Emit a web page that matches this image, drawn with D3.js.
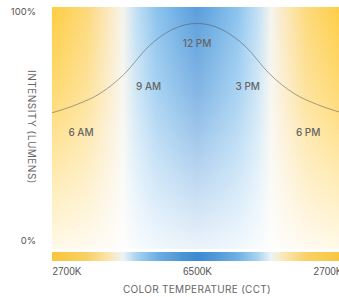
<!DOCTYPE html>
<html>
<head>
<meta charset="utf-8">
<script src="https://cdn.jsdelivr.net/npm/d3@7"></script>
<style>
  body { margin: 0; background: #fff; }
  svg { display: block; font-family: Inter, "Open Sans", sans-serif; }
</style>
</head>
<body>
<svg id="chart" width="339" height="297"></svg>
<script>
// time of day (hours) and light intensity (%)
const hours = [6, 7, 8, 9, 10, 11, 12, 13, 14, 15, 16, 17, 18];
const intensity = [56, 59.5, 64.5, 73, 85, 92.5, 95, 92.5, 85, 73, 64.5, 59.5, 56];

const timeLabels = ["6 AM", "9 AM", "12 PM", "3 PM", "6 PM"];
const labelHours = [7.2, 10, 12, 14.1, 16.6];
const labelValues = [47, 67, 86, 67, 47];

const cctTicks = [6, 12, 18];
const cctLabels = ["2700K", "6500K", "2700K"];
const yTicks = [0, 100];

// color temperature gradient, left to right
const gradOffsets = [0, 0.12, 0.2, 0.245, 0.29, 0.36, 0.45, 0.5, 0.55, 0.64, 0.71, 0.755, 0.8, 0.88, 1];
const gradColors = ["#ffcd42", "#fdd97a", "#fbe9c2", "#f5f4ec", "#c2e0f4", "#8cc4ee", "#6aabe2", "#5b9edc",
                    "#6aabe2", "#8cc4ee", "#c2e0f4", "#f5f4ec", "#fbe9c2", "#fdd97a", "#ffcd42"];
const stripColors = ["#f8c63a", "#f9d064", "#fbe6b4", "#eef3f5", "#a9d4f1", "#6fb0e3", "#4d95d6", "#3d8bd3",
                     "#4d95d6", "#6fb0e3", "#a9d4f1", "#eef3f5", "#fbe6b4", "#f9d064", "#f8c63a"];

const svg = d3.select("#chart");
const plot = { left: 52, right: 342, top: 7, bottom: 249 };

const x = d3.scaleLinear().domain([6, 18]).range([plot.left, plot.right]);
const y = d3.scaleLinear().domain([0, 100]).range([241, 12]);

const defs = svg.append("defs");
const hGrad = defs.append("linearGradient").attr("id", "hgrad");
hGrad.selectAll("stop").data(gradOffsets).enter().append("stop")
  .attr("offset", d => d).attr("stop-color", (d, i) => gradColors[i]);

const sGrad = defs.append("linearGradient").attr("id", "sgrad");
sGrad.selectAll("stop").data(gradOffsets).enter().append("stop")
  .attr("offset", d => d).attr("stop-color", (d, i) => stripColors[i]);

const vGrad = defs.append("linearGradient").attr("id", "vgrad")
  .attr("x1", 0).attr("x2", 0).attr("y1", 0).attr("y2", 1);
vGrad.append("stop").attr("offset", 0).attr("stop-color", "#fff").attr("stop-opacity", 0);
vGrad.append("stop").attr("offset", 0.35).attr("stop-color", "#fff").attr("stop-opacity", 0.25);
vGrad.append("stop").attr("offset", 1).attr("stop-color", "#fff").attr("stop-opacity", 0.88);

const blur = defs.append("filter").attr("id", "soft").attr("x", "-5%").attr("width", "110%");
blur.append("feGaussianBlur").attr("stdDeviation", "0.6");

// background
svg.append("rect")
  .attr("x", plot.left).attr("y", plot.top)
  .attr("width", plot.right - plot.left).attr("height", plot.bottom - plot.top)
  .attr("fill", "url(#hgrad)");
svg.append("rect")
  .attr("x", plot.left).attr("y", plot.top)
  .attr("width", plot.right - plot.left).attr("height", plot.bottom - plot.top)
  .attr("fill", "url(#vgrad)");

// color strip
svg.append("rect")
  .attr("x", plot.left).attr("y", 252)
  .attr("width", plot.right - plot.left).attr("height", 9)
  .attr("fill", "url(#sgrad)")
  .attr("filter", "url(#soft)");

// intensity curve
const line = d3.line()
  .x((d, i) => x(hours[i]))
  .y(d => y(d))
  .curve(d3.curveMonotoneX);

svg.append("path")
  .datum(intensity)
  .attr("d", line)
  .attr("fill", "none")
  .attr("stroke", "rgba(90,90,90,0.55)")
  .attr("stroke-width", 1);

// time labels
svg.selectAll(".tlabel")
  .data(timeLabels)
  .enter().append("text")
  .attr("x", (d, i) => x(labelHours[i]))
  .attr("y", (d, i) => y(labelValues[i]))
  .attr("text-anchor", "middle")
  .attr("dominant-baseline", "middle")
  .attr("font-size", 10)
  .attr("font-weight", 500)
  .attr("fill", "#666")
  .text(d => d);

// y tick labels
svg.selectAll(".ytick")
  .data(yTicks)
  .enter().append("text")
  .attr("x", 36)
  .attr("y", d => y(d))
  .attr("text-anchor", "end")
  .attr("dominant-baseline", "middle")
  .attr("font-size", 9.5)
  .attr("fill", "#555")
  .text(d => d + "%");

// x axis
const xAxis = svg.append("g")
  .attr("transform", "translate(0,266)")
  .call(d3.axisBottom(x).tickValues(cctTicks).tickSize(0).tickPadding(2)
    .tickFormat((d, i) => cctLabels[i]));
xAxis.select(".domain").remove();
xAxis.selectAll("text")
  .attr("font-family", null)
  .attr("font-size", 10)
  .attr("font-weight", 500)
  .attr("fill", "#555")
  .attr("text-anchor", (d, i) => i === 0 ? "start" : (i === cctTicks.length - 1 ? "end" : "middle"));

// axis titles
svg.append("text")
  .attr("x", x(12)).attr("y", 290)
  .attr("text-anchor", "middle")
  .attr("dominant-baseline", "middle")
  .attr("font-size", 10)
  .attr("letter-spacing", 0.3)
  .attr("fill", "#666")
  .text("COLOR TEMPERATURE (CCT)");

svg.append("text")
  .attr("transform", "translate(31,127) rotate(90)")
  .attr("text-anchor", "middle")
  .attr("dominant-baseline", "middle")
  .attr("font-size", 10)
  .attr("letter-spacing", 0.5)
  .attr("fill", "#666")
  .text("INTENSITY (LUMENS)");
</script>
</body>
</html>
